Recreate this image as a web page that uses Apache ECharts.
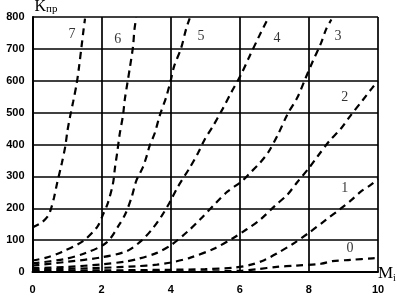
<!DOCTYPE html>
<html><head><meta charset="utf-8">
<script src="https://cdn.jsdelivr.net/npm/echarts@6/dist/echarts.min.js"></script>
<style>html,body{margin:0;padding:0;background:#fff}#c{width:397px;height:298px}</style>
</head><body><div id="c"></div>
<script>
// x ticks / y ticks
var xTicks = [0, 2, 4, 6, 8, 10];
var yTicks = [0, 100, 200, 300, 400, 500, 600, 700, 800];

// Curves [M_i, K_pr]
var curve0 = [[0,1],[2,1],[4,2],[5,2],[6,4],[6.5,9],[7.07,16],[7.62,20],[8.36,26],[8.68,34],[9.2,38],[9.84,43],[10,44]];
var curve1 = [[0,4],[2,5],[4,7],[5,9],[5.85,14],[6.33,23],[6.72,38],[7.1,60],[7.52,87],[8.0,123],[8.5,164],[8.9,197],[9.2,223],[9.5,252],[9.8,274],[10,292]];
var curve2 = [[0,7],[2,13],[3.0,18],[3.6,23],[4.07,31],[4.57,45],[5.25,73],[5.8,106],[6.2,134],[6.6,165],[7.0,206],[7.38,243],[7.65,280],[8.0,326],[8.26,364],[8.6,412],[8.93,450],[9.2,490],[9.55,538],[9.83,577],[10,598]];
var curve3 = [[0,12],[1,16],[2,24],[2.7,33],[3.05,41],[3.6,60],[4.03,86],[4.5,128],[4.87,167],[5.3,216],[5.64,252],[6.05,284],[6.29,310],[6.58,342],[6.82,375],[7.1,430],[7.38,495],[7.67,548],[7.88,602],[8.1,658],[8.35,718],[8.5,762],[8.65,792]];
var curve4 = [[0,20],[1,32],[2,46],[2.74,66],[3.17,100],[3.49,138],[3.74,176],[3.97,218],[4.2,266],[4.55,327],[4.79,373],[4.98,415],[5.22,457],[5.5,511],[5.74,561],[6.03,618],[6.27,674],[6.56,740],[6.8,792]];
var curve5 = [[0,27],[0.9,40],[1.5,58],[2.14,92],[2.52,150],[2.7,185],[2.87,235],[3.0,285],[3.2,330],[3.3,362],[3.39,396],[3.54,436],[3.68,490],[3.87,549],[4.01,605],[4.1,646],[4.3,702],[4.45,764],[4.55,796]];
var curve6 = [[0,36],[0.4,45],[0.85,63],[1.45,96],[1.87,141],[2.04,180],[2.18,216],[2.33,278],[2.39,330],[2.45,373],[2.52,430],[2.62,492],[2.67,540],[2.75,595],[2.82,642],[2.91,708],[2.95,760],[3.0,798]];
var curve7 = [[0,140],[0.25,154],[0.45,176],[0.54,200],[0.62,232],[0.72,282],[0.85,342],[0.95,395],[1.01,442],[1.09,489],[1.18,536],[1.28,592],[1.35,646],[1.42,708],[1.48,762],[1.52,795]];

var curveNames = ['0','1','2','3','4','5','6','7'];
var curves = [curve0, curve1, curve2, curve3, curve4, curve5, curve6, curve7];
// label anchors in data units
var labelNames = ['7','6','5','4','3','2','1','0'];
var labelX = [1.14, 2.47, 4.88, 7.08, 8.84, 9.04, 9.04, 9.19];
var labelY = [746, 730, 740, 733, 740, 548, 263, 75];

var chart = echarts.init(document.getElementById('c'), null, {renderer:'canvas'});
var series = curves.map(function(d, i){
  return {type:'line', name:curveNames[i], data:d, showSymbol:false, smooth:0.3,
    lineStyle:{color:'#000', width:2.2, type:[7,5]}, silent:true, clip:true};
});
series.push({type:'scatter', symbolSize:0, silent:true,
  data: labelNames.map(function(n,i){return {name:n, value:[labelX[i], labelY[i]]};}),
  label:{show:true, position:'inside', formatter:'{b}', color:'#000',
    fontFamily:'Liberation Serif', fontSize:14}});

chart.setOption({
  animation:false,
  backgroundColor:'#fff',
  grid:{left:32.5, right:19, top:17, bottom:26, containLabel:false, outerBoundsMode:'none'},
  xAxis:{type:'value', min:0, max:10, interval:2,
    axisLine:{show:true, onZero:false, lineStyle:{color:'#000', width:2}},
    axisTick:{show:false},
    axisLabel:{color:'#000', fontFamily:'Liberation Sans', fontWeight:'bold', fontSize:11, margin:12,
      formatter:function(v){return xTicks.indexOf(v)>=0 ? String(v) : '';}},
    splitLine:{show:true, lineStyle:{color:'#000', width:1.7}},
    name:'M{s|i}', nameLocation:'end', nameGap:0,
    nameTextStyle:{fontFamily:'Liberation Serif', fontSize:17, color:'#000', align:'left', verticalAlign:'middle', padding:[4,0,0,0],
      rich:{s:{fontFamily:'Liberation Serif', fontSize:10, color:'#000', padding:[8,0,0,0]}}}
  },
  yAxis:{type:'value', min:0, max:800, interval:100,
    axisLine:{show:true, lineStyle:{color:'#000', width:2}},
    axisTick:{show:false},
    axisLabel:{color:'#000', fontFamily:'Liberation Sans', fontWeight:'bold', fontSize:11, margin:8,
      formatter:function(v){return yTicks.indexOf(v)>=0 ? String(v) : '';}},
    splitLine:{show:true, lineStyle:{color:'#000', width:1.7}},
    name:'K{s|пр}', nameLocation:'end', nameGap:2,
    nameTextStyle:{fontFamily:'Liberation Serif', fontSize:16, color:'#000', align:'left', verticalAlign:'bottom', padding:[0,0,0,2],
      rich:{s:{fontFamily:'Liberation Serif', fontSize:11, color:'#000', padding:[6,0,0,0]}}}
  },
  series:series
});
</script></body></html>
